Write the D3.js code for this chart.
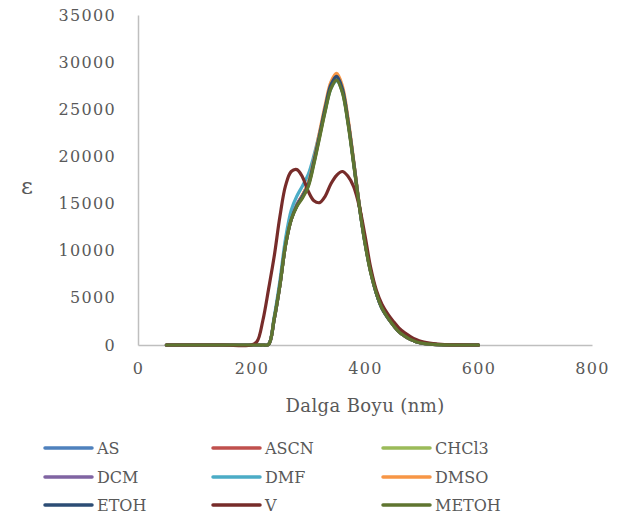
<!DOCTYPE html>
<html>
<head>
<meta charset="utf-8">
<script src="https://cdn.jsdelivr.net/npm/d3@7"></script>
<style>
  body { margin: 0; background: #fff; }
  #chart { width: 628px; height: 518px; }
  text { font-family: "DejaVu Serif", serif; fill: #595959; }
</style>
</head>
<body>
<div id="chart"></div>
<script>
// wavelength grid (nm)
const wavelengths = [50, 100, 150, 200, 210, 220, 230, 240, 250, 260, 270, 280, 290, 300, 310, 320, 330, 340, 350, 360, 370, 380, 390, 400, 410, 420, 430, 440, 450, 460, 470, 480, 490, 500, 520, 540, 560, 600];

// molar absorptivity per solvent
const AS    = [0, 0, 0, 0, 0, 0, 50, 2700, 6300, 10600, 13300, 14800, 15800, 17000, 19400, 22200, 25000, 27400, 28300, 27000, 23700, 19300, 14700, 10800, 7700, 5500, 3900, 2900, 2100, 1400, 950, 600, 350, 200, 60, 10, 0, 0];
const ASCN  = [0, 0, 0, 0, 0, 0, 50, 2800, 6400, 10700, 13400, 14900, 15900, 17100, 19500, 22300, 25100, 27500, 28400, 27100, 23800, 19400, 14800, 10900, 7800, 5500, 3900, 2900, 2100, 1400, 950, 600, 350, 200, 60, 10, 0, 0];
const CHCl3 = [0, 0, 0, 0, 0, 0, 50, 2700, 6300, 10600, 13300, 14800, 15700, 16900, 19300, 22100, 24900, 27300, 28200, 26900, 23600, 19200, 14700, 10800, 7700, 5500, 3900, 2900, 2100, 1400, 950, 600, 350, 200, 60, 10, 0, 0];
const DCM   = [0, 0, 0, 0, 0, 0, 50, 2800, 6400, 10700, 13400, 14900, 15900, 17100, 19500, 22300, 25100, 27500, 28400, 27100, 23800, 19400, 14800, 10900, 7800, 5500, 3900, 2900, 2100, 1400, 950, 600, 350, 200, 60, 10, 0, 0];
const DMF   = [0, 0, 0, 0, 0, 0, 60, 3000, 6800, 11300, 14300, 15800, 16900, 18100, 20100, 22500, 25000, 27200, 28000, 26900, 23700, 19400, 14800, 10900, 7800, 5500, 3900, 2900, 2100, 1400, 950, 600, 350, 200, 60, 10, 0, 0];
const DMSO  = [0, 0, 0, 0, 0, 0, 50, 2700, 6300, 10600, 13300, 14800, 15900, 17200, 19700, 22600, 25500, 27900, 28800, 27500, 24100, 19600, 14900, 11000, 7800, 5600, 4000, 2950, 2100, 1400, 950, 600, 350, 200, 60, 10, 0, 0];
const ETOH  = [0, 0, 0, 0, 0, 0, 50, 2700, 6300, 10600, 13300, 14800, 15800, 17000, 19500, 22300, 25200, 27600, 28500, 27200, 23800, 19400, 14800, 10900, 7800, 5500, 3900, 2900, 2100, 1400, 950, 600, 350, 200, 60, 10, 0, 0];
const V     = [0, 0, 0, 0, 400, 2600, 5900, 9400, 13600, 16900, 18400, 18600, 17800, 16300, 15300, 15100, 15800, 17100, 18000, 18400, 17900, 16800, 14700, 11600, 8200, 5800, 4300, 3300, 2500, 1800, 1300, 900, 580, 360, 150, 50, 10, 0];
const METOH = [0, 0, 0, 0, 0, 0, 50, 2800, 6300, 10600, 13300, 14700, 15600, 16800, 19200, 22000, 24800, 27200, 28100, 26800, 23500, 19200, 14700, 10800, 7700, 5500, 3900, 2900, 2100, 1400, 950, 600, 350, 200, 60, 10, 0, 0];

const seriesNames = ["AS", "ASCN", "CHCl3", "DCM", "DMF", "DMSO", "ETOH", "V", "METOH"];
const seriesValues = [AS, ASCN, CHCl3, DCM, DMF, DMSO, ETOH, V, METOH];
const colors = ["#4f81bd", "#c0504d", "#9bbb59", "#8064a2", "#4bacc6", "#f79646", "#2c4d75", "#772c2a", "#5f7530"];

const xTicks = [0, 200, 400, 600, 800];
const yTicks = [0, 5000, 10000, 15000, 20000, 25000, 30000, 35000];

const svg = d3.select("#chart").append("svg")
    .attr("width", 628)
    .attr("height", 518);

const x = d3.scaleLinear().domain([0, 800]).range([138, 592]);
const y = d3.scaleLinear().domain([0, 35000]).range([345, 15]);

// axes
const yAxis = svg.append("g")
    .attr("transform", `translate(${x(0)},0)`)
    .call(d3.axisLeft(y).tickValues(yTicks).tickSize(0).tickPadding(22).tickFormat(d3.format("d")));
yAxis.select(".domain").attr("stroke", "#bfbfbf").attr("stroke-width", 1.5);
yAxis.selectAll("text").style("font-size", "16px").style("letter-spacing", "1.3px").attr("fill", "#595959");

const xAxis = svg.append("g")
    .attr("transform", `translate(0,${y(0)})`)
    .call(d3.axisBottom(x).tickValues(xTicks).tickSize(0).tickPadding(18).tickFormat(d3.format("d")));
xAxis.select(".domain").attr("stroke", "#bfbfbf").attr("stroke-width", 1.5);
xAxis.selectAll("text").style("font-size", "16px").style("letter-spacing", "1.3px").attr("fill", "#595959");

// axis titles
svg.append("text")
    .attr("x", x(400))
    .attr("y", 412)
    .attr("text-anchor", "middle")
    .style("font-size", "18px")
    .style("letter-spacing", "0.4px")
    .text("Dalga Boyu (nm)");

svg.append("text")
    .attr("x", 27)
    .attr("y", 194)
    .attr("text-anchor", "middle")
    .style("font-size", "23px")
    .text("ε");

// lines (smoothed like the spreadsheet's smooth lines)
const line = d3.line()
    .x((d, i) => x(wavelengths[i]))
    .y(d => y(d))
    .curve(d3.curveCatmullRom.alpha(0.5));

svg.append("g").selectAll("path")
    .data(seriesValues)
    .join("path")
    .attr("d", d => line(d))
    .attr("fill", "none")
    .attr("stroke", (d, i) => colors[i])
    .attr("stroke-width", 3.2)
    .attr("stroke-linejoin", "round")
    .attr("stroke-linecap", "round");

// legend
const colX = [45, 213, 383];
const rowY = [448, 477, 505];
const legend = svg.append("g").selectAll("g")
    .data(seriesNames)
    .join("g")
    .attr("transform", (d, i) => `translate(${colX[i % 3]},${rowY[Math.floor(i / 3)]})`);

legend.append("line")
    .attr("x1", 0).attr("x2", 47)
    .attr("stroke", (d, i) => colors[i])
    .attr("stroke-width", 3.5)
    .attr("stroke-linecap", "round");

legend.append("text")
    .attr("x", 52)
    .attr("dy", "0.35em")
    .style("font-size", "16px")
    .text(d => d);
</script>
</body>
</html>
